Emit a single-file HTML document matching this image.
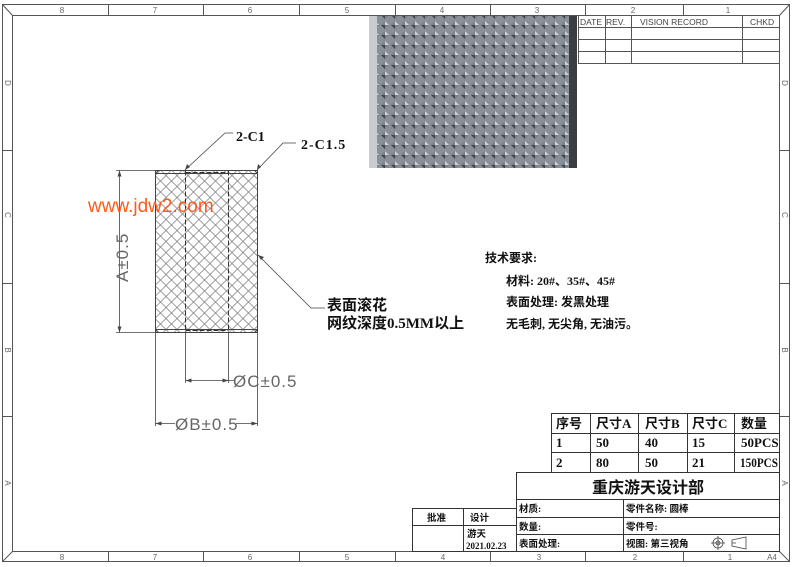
<!DOCTYPE html>
<html><head><meta charset="utf-8"><style>
html,body{margin:0;padding:0;background:#fff;}
svg{display:block;font-family:"Liberation Sans","Noto Sans CJK SC",sans-serif;}
.cj{font-family:"Liberation Serif","Noto Sans CJK SC",sans-serif;font-weight:bold;}
</style></head><body>
<svg width="800" height="567" viewBox="0 0 800 567" xmlns="http://www.w3.org/2000/svg">
<defs>
<pattern id="kn" x="155" y="170" width="11" height="11" patternUnits="userSpaceOnUse">
<path d="M0,5.5 L5.5,0 L11,5.5 M0,5.5 L5.5,11 L11,5.5" fill="none" stroke="#777" stroke-width="0.7"/>
</pattern>
<pattern id="ph" width="10" height="10" patternUnits="userSpaceOnUse">
<rect width="10" height="10" fill="#8a9098"/>
<path d="M5,1 L9,5 L5,9 L1,5Z" fill="#7a8189"/>
<path d="M5,1 L9,5 L5,5Z" fill="#d0d4d8"/>
<path d="M1,5 L5,9 L5,5Z" fill="#40464c"/>
</pattern>
</defs>
<g fill="none" stroke="#555" stroke-width="1">
<rect x="2.5" y="4.5" width="787" height="557"/>
<rect x="12.5" y="15.5" width="767" height="536"/>
<path d="M2.5,4.5 L12.5,15.5 M789.5,4.5 L779.5,15.5 M2.5,561.5 L12.5,551.5 M789.5,561.5 L779.5,551.5"/>
<path d="M108.5,4.5V15.5 M203.5,4.5V15.5 M299.5,4.5V15.5 M395.5,4.5V15.5 M490.5,4.5V15.5 M585.5,4.5V15.5 M683.5,4.5V15.5"/>
<path d="M108.5,551.5V561.5 M203.5,551.5V561.5 M299.5,551.5V561.5 M395.5,551.5V561.5 M490.5,551.5V561.5 M585.5,551.5V561.5 M683.5,551.5V561.5"/>
<path d="M2.5,150.5H12.5 M2.5,283.5H12.5 M2.5,416.5H12.5 M779.5,150.5H789.5 M779.5,283.5H789.5 M779.5,416.5H789.5"/>
</g>
<g font-size="8" fill="#666" text-anchor="middle">
<text x="62" y="13">8</text><text x="155" y="13">7</text><text x="250" y="13">6</text><text x="347" y="13">5</text><text x="442" y="13">4</text><text x="537" y="13">3</text><text x="633" y="13">2</text><text x="728" y="13">1</text>
<text x="62" y="560">8</text><text x="155" y="560">7</text><text x="250" y="560">6</text><text x="347" y="560">5</text><text x="443" y="560">4</text><text x="539" y="560">3</text><text x="635" y="560">2</text><text x="730" y="560">1</text><text x="772" y="560">A4</text>
<text x="8" y="86" transform="rotate(90 8 83)">D</text><text x="8" y="218" transform="rotate(90 8 215)">C</text><text x="8" y="353" transform="rotate(90 8 350)">B</text><text x="8" y="486" transform="rotate(90 8 483)">A</text>
<text x="785" y="86" transform="rotate(90 785 83)">D</text><text x="785" y="218" transform="rotate(90 785 215)">C</text><text x="785" y="353" transform="rotate(90 785 350)">B</text><text x="785" y="486" transform="rotate(90 785 483)">A</text>
</g>
<!-- photo -->
<rect x="369" y="16" width="208" height="152" fill="url(#ph)"/>
<rect x="369" y="16" width="8" height="152" fill="#c8ccd0"/>
<rect x="569" y="16" width="8" height="152" fill="#3a3e42"/>
<!-- revision table -->
<g fill="none" stroke="#555">
<rect x="578.5" y="15.5" width="201" height="48"/>
<path d="M578.5,27.5H779.5 M578.5,39.5H779.5 M578.5,51.5H779.5 M605.5,15.5V63.5 M631.5,15.5V63.5 M742.5,15.5V63.5"/>
</g>
<g font-size="8.5" fill="#444">
<text x="580" y="25">DATE</text><text x="606" y="25">REV.</text><text x="640" y="25">VISION RECORD</text><text x="750" y="25">CHKD</text>
</g>
<!-- part -->
<rect x="155.5" y="170.5" width="102" height="162" fill="url(#kn)" stroke="#444"/>
<path d="M155.5,173.5L158.5,170.5 M254.5,170.5L257.5,173.5 M155.5,329.5L158.5,332.5 M254.5,332.5L257.5,329.5 M155.5,173.5H257.5 M155.5,329.5H257.5" fill="none" stroke="#444"/>
<path d="M185.5,170.5V332.5 M228.5,170.5V332.5 M185.5,172.5H228.5 M185.5,330.5H228.5" fill="none" stroke="#333" stroke-dasharray="5,2"/>
<!-- dims -->
<g fill="none" stroke="#444" stroke-width="0.8">
<path d="M155,170.5H116 M155,332.5H116 M119.5,170.5V332.5"/>
<path d="M185.5,333V383 M228.5,333V383 M185.5,380.5H228.5 M228.5,380.5H234"/>
<path d="M155.5,333V426 M257.5,333V426 M155.5,423.5H175 M236,423.5H257.5"/>
<path d="M185,170 L225,133 H233 M257,170 L283,143 H296 M258,255 L311,308 H325"/>
</g>
<g fill="#444">
<path d="M119.5,170.5 l-2,6 h4z M119.5,332.5 l-2,-6 h4z"/>
<path d="M185.5,380.5 l6,-2 v4z M228.5,380.5 l-6,-2 v4z M155.5,423.5 l6,-2 v4z M257.5,423.5 l-6,-2 v4z"/>
<path d="M185,170 l2,-6 l3,3z M257,170 l1,-6 l3,3z M258,255 l6,2 l-3,3z"/>
</g>
<text x="128" y="282" font-size="17" fill="#666" transform="rotate(-90 128 282)" letter-spacing="1">A±0.5</text>
<text x="233" y="387" font-size="17" fill="#666" letter-spacing="1">ØC±0.5</text>
<text x="175" y="430" font-size="17" fill="#666" letter-spacing="1">ØB±0.5</text>
<text x="236" y="141" class="cj" font-size="14" fill="#111">2-C1</text>
<text x="301" y="149" class="cj" font-size="14" fill="#111" letter-spacing="1">2-C1.5</text>
<text x="327" y="310" class="cj" font-size="15" fill="#111">表面滚花</text>
<text x="327" y="328" class="cj" font-size="15" fill="#111">网纹深度0.5MM以上</text>
<text x="88" y="212" font-size="19" fill="#ff5a1a">www.jdw2.com</text>
<!-- tech -->
<g class="cj" font-size="12" fill="#111">
<text x="485" y="262">技术要求:</text>
<text x="506" y="285">材料: 20#、35#、45#</text>
<text x="506" y="306">表面处理: 发黑处理</text>
<text x="506" y="328">无毛刺, 无尖角, 无油污。</text>
</g>
<!-- table -->
<g fill="none" stroke="#333">
<rect x="551.5" y="413.5" width="228" height="59"/>
<path d="M551.5,433.5H779.5 M551.5,452.5H779.5 M590.5,413.5V472.5 M638.5,413.5V472.5 M687.5,413.5V472.5 M734.5,413.5V472.5"/>
<rect x="516.5" y="472.5" width="263" height="79"/>
<path d="M516.5,499.5H779.5 M516.5,517.5H779.5 M516.5,534.5H779.5 M623.5,499.5V551.5"/>
<rect x="412.5" y="508.5" width="104" height="43"/>
<path d="M412.5,525.5H516.5 M463.5,508.5V551.5"/>
</g>
<g class="cj" font-size="13" fill="#111">
<text x="556" y="428">序号</text><text x="596" y="428">尺寸A</text><text x="645" y="428">尺寸B</text><text x="692" y="428">尺寸C</text><text x="741" y="428">数量</text>
<text x="556" y="447">1</text><text x="596" y="447">50</text><text x="645" y="447">40</text><text x="692" y="447">15</text><text x="741" y="447">50PCS</text>
<text x="556" y="467">2</text><text x="596" y="467">80</text><text x="645" y="467">50</text><text x="692" y="467">21</text><text x="740" y="467" textLength="38" lengthAdjust="spacingAndGlyphs">150PCS</text>
<text x="592" y="493" font-size="16">重庆游天设计部</text>
</g>
<g class="cj" font-size="9.5" fill="#111">
<text x="519" y="512">材质:</text><text x="626" y="512">零件名称: 圆棒</text>
<text x="519" y="530">数量:</text><text x="626" y="530">零件号:</text>
<text x="519" y="547">表面处理:</text><text x="626" y="547">视图: 第三视角</text>
<text x="427" y="521">批准</text><text x="470" y="521">设计</text>
<text x="467" y="537">游天</text><text x="466" y="549" font-size="9">2021.02.23</text>
</g>
<g fill="none" stroke="#444" stroke-width="0.8">
<circle cx="718" cy="543" r="5"/><circle cx="718" cy="543" r="2"/><path d="M711,543H725 M718,536V550"/>
<path d="M732,540 L746,537 V549 L732,546Z M732,543H736"/>
</g>
</svg>
</body></html>
